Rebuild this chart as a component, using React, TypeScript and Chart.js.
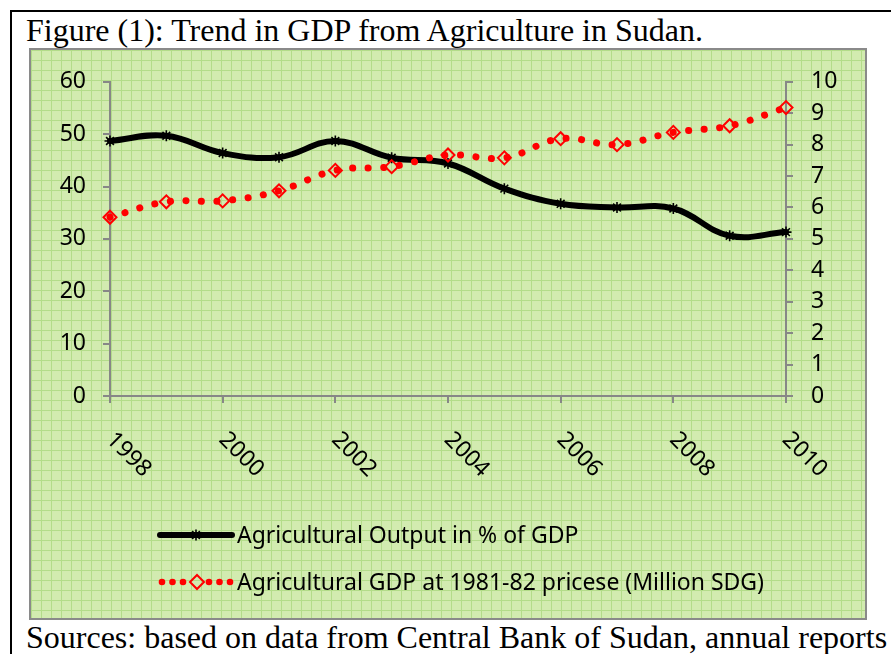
import React, { useEffect, useRef } from "react";
import { Chart, registerables } from "chart.js";

Chart.register(...registerables);

const years = [1998, 1999, 2000, 2001, 2002, 2003, 2004, 2005, 2006, 2007, 2008, 2009, 2010];
const agriShare = [48.7, 49.7, 46.4, 45.6, 48.7, 45.5, 44.4, 39.6, 36.7, 36.0, 35.8, 30.6, 31.3];
const agriGdp = [5.69, 6.18, 6.21, 6.53, 7.18, 7.3, 7.67, 7.58, 8.19, 8.0, 8.39, 8.6, 9.18];
const xTickLabels = [1998, 2000, 2002, 2004, 2006, 2008, 2010];
const shareLabel = "Agricultural Output in % of GDP";
const gdpLabel = "Agricultural GDP at 1981-82 pricese (Million SDG)";
const titleText = "Figure (1): Trend in GDP from Agriculture in Sudan.";
const sourceText = "Sources: based on data from Central Bank of Sudan, annual reports";

const SANS = "'Noto Sans', 'Open Sans', sans-serif";
const FONT_SIZE = 23;
const AXIS_GRAY = "#878787";
const RED = "#ff0000";

function drawStar(ctx: CanvasRenderingContext2D, x: number, y: number, r: number) {
  ctx.beginPath();
  ctx.moveTo(x - r, y);
  ctx.lineTo(x + r, y);
  ctx.moveTo(x, y - r);
  ctx.lineTo(x, y + r);
  const d = r * Math.SQRT1_2;
  ctx.moveTo(x - d, y - d);
  ctx.lineTo(x + d, y + d);
  ctx.moveTo(x - d, y + d);
  ctx.lineTo(x + d, y - d);
  ctx.stroke();
}

const overlayPlugin = {
  id: "overlay",
  afterDraw(chart: any) {
    const ctx: CanvasRenderingContext2D = chart.ctx;
    const xs = chart.scales.x;
    const bottom = chart.chartArea.bottom;
    ctx.save();
    ctx.fillStyle = "#000";
    ctx.font = `${FONT_SIZE}px ${SANS}`;
    ctx.textAlign = "left";
    ctx.textBaseline = "middle";
    for (const v of xTickLabels) {
      const px = xs.getPixelForValue(v);
      ctx.save();
      ctx.translate(px, bottom + 40);
      ctx.rotate(Math.PI / 4);
      ctx.fillText(String(v), 0, 0);
      ctx.restore();
    }
    // legend
    const lx0 = 129;
    const lx1 = 201;
    const ly1 = 485;
    const ly2 = 532;
    const textX = 206;
    ctx.strokeStyle = "#000";
    ctx.lineWidth = 6;
    ctx.lineCap = "round";
    ctx.beginPath();
    ctx.moveTo(lx0, ly1);
    ctx.lineTo(lx1, ly1);
    ctx.stroke();
    ctx.lineWidth = 1.6;
    ctx.lineCap = "butt";
    drawStar(ctx, (lx0 + lx1) / 2, ly1, 5.5);
    ctx.fillStyle = RED;
    for (const dx of [0, 10.5, 21, 47, 57.5, 68]) {
      ctx.beginPath();
      ctx.arc(lx0 + 2 + dx, ly2, 3.3, 0, Math.PI * 2);
      ctx.fill();
    }
    const cx = (lx0 + lx1) / 2 + 1;
    ctx.strokeStyle = RED;
    ctx.lineWidth = 2;
    ctx.beginPath();
    ctx.moveTo(cx - 7, ly2);
    ctx.lineTo(cx, ly2 - 7);
    ctx.lineTo(cx + 7, ly2);
    ctx.lineTo(cx, ly2 + 7);
    ctx.closePath();
    ctx.stroke();
    ctx.fillStyle = "#000";
    ctx.font = `${FONT_SIZE}px ${SANS}`;
    ctx.fillText(shareLabel, textX, ly1 + 1);
    ctx.fillText(gdpLabel, textX, ly2 + 1);
    ctx.restore();
  },
};

export default function App() {
  const canvasRef = useRef<HTMLCanvasElement | null>(null);

  useEffect(() => {
    const canvas = canvasRef.current;
    if (!canvas) return;
    const axisCommon = {
      grid: {
        drawOnChartArea: false,
        color: AXIS_GRAY,
        lineWidth: 2,
        tickLength: 7,
      },
      border: { color: AXIS_GRAY, width: 2 },
    };
    const chart = new Chart(canvas, {
      type: "line",
      data: {
        datasets: [
          {
            label: gdpLabel,
            data: years.map((x, i) => ({ x, y: agriGdp[i] })),
            yAxisID: "y2",
            borderColor: RED,
            borderWidth: 7,
            borderCapStyle: "round",
            borderDash: [0.1, 15.5],
            tension: 0.4,
            pointStyle: "rectRot",
            pointRadius: 6.5,
            pointBorderWidth: 2,
            pointBorderColor: RED,
            pointBackgroundColor: "rgba(0,0,0,0)",
            fill: false,
            clip: false,
          } as any,
          {
            label: shareLabel,
            data: years.map((x, i) => ({ x, y: agriShare[i] })),
            yAxisID: "y",
            borderColor: "#000",
            borderWidth: 6,
            borderCapStyle: "round",
            tension: 0.4,
            pointStyle: "star",
            pointRadius: 5.5,
            pointBorderWidth: 1.6,
            pointBorderColor: "#000",
            pointBackgroundColor: "#000",
            fill: false,
            clip: false,
          } as any,
        ],
      },
      options: {
        animation: false,
        responsive: false,
        devicePixelRatio: 1,
        layout: { padding: { top: 28, left: 0, right: 0, bottom: 0 } },
        plugins: {
          legend: { display: false },
          tooltip: { enabled: false },
          title: { display: false },
        },
        scales: {
          x: {
            type: "linear",
            min: 1998,
            max: 2010,
            ticks: { stepSize: 2, display: false },
            ...axisCommon,
            afterFit: (s: any) => {
              s.height = 222;
            },
          },
          y: {
            position: "left",
            min: 0,
            max: 60,
            ticks: {
              stepSize: 10,
              color: "#000",
              padding: 17,
              font: { size: FONT_SIZE, family: SANS },
            },
            ...axisCommon,
            afterFit: (s: any) => {
              s.width = 79;
            },
          },
          y2: {
            position: "right",
            min: 0,
            max: 10,
            ticks: {
              stepSize: 1,
              color: "#000",
              padding: 18,
              font: { size: FONT_SIZE, family: SANS },
            },
            ...axisCommon,
            afterFit: (s: any) => {
              s.width = 79;
            },
          },
        },
      } as any,
      plugins: [overlayPlugin],
    });
    return () => chart.destroy();
  }, []);

  return (
    <div
      style={{
        position: "absolute",
        left: 0,
        top: 0,
        width: 891,
        height: 654,
        overflow: "hidden",
        background: "#fff",
      }}
    >
      <div
        style={{
          position: "absolute",
          left: 10,
          top: 10,
          width: 900,
          height: 700,
          borderTop: "2px solid #000",
          borderLeft: "2px solid #000",
        }}
      />
      <div
        style={{
          position: "absolute",
          left: 26,
          top: 12,
          fontFamily: "'Liberation Serif', 'Times New Roman', serif",
          fontSize: 32,
          lineHeight: "36px",
          color: "#000",
          whiteSpace: "nowrap",
        }}
      >
        {titleText}
      </div>
      <div
        style={{
          position: "absolute",
          left: 29,
          top: 48,
          width: 834,
          height: 568,
          border: "2px solid #8a8a8a",
          backgroundColor: "#d2ebb0",
          backgroundImage:
            "linear-gradient(to right, #b3dc8a 1px, transparent 1px), linear-gradient(to bottom, #b3dc8a 1px, transparent 1px)",
          backgroundSize: "10px 10px",
        }}
      >
        <canvas
          ref={canvasRef}
          width={834}
          height={568}
          style={{ display: "block", width: 834, height: 568 }}
        />
      </div>
      <div
        style={{
          position: "absolute",
          left: 26,
          top: 619,
          fontFamily: "'Liberation Serif', 'Times New Roman', serif",
          fontSize: 32,
          lineHeight: "36px",
          color: "#000",
          whiteSpace: "nowrap",
        }}
      >
        {sourceText}
      </div>
    </div>
  );
}
